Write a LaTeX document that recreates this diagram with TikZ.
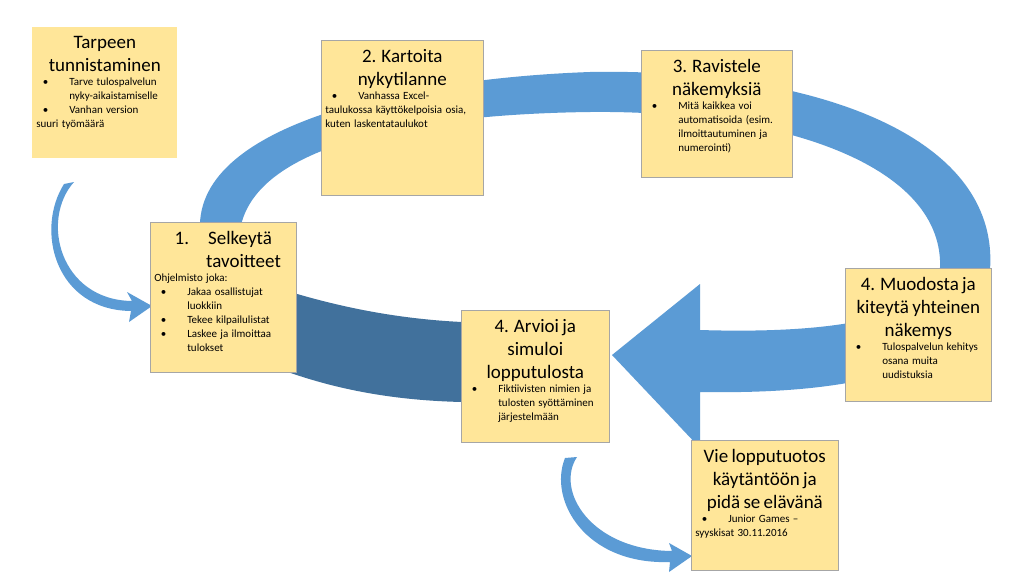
\documentclass[tikz,border=0pt]{standalone}
\usepackage{fontspec}
\setmainfont{Carlito}
\usetikzlibrary{arrows.meta}
\definecolor{bx}{HTML}{FFE699}
\definecolor{bl}{HTML}{5B9BD5}
\definecolor{bd}{HTML}{41719C}
\newcommand{\itm}[1]{\par\hangindent=3em\hangafter=1\noindent\hspace*{0.6em}\makebox[2.4em][l]{\textbullet}#1}
\newcommand{\ttl}[1]{\vspace*{5pt}{\centering\fontsize{19}{23}\selectfont #1\par}\fontsize{11}{14}\selectfont\raggedright\hyphenpenalty=10000\exhyphenpenalty=10000 }
\tikzset{card/.style={fill=bx,draw=gray!70,line width=0.6pt,anchor=north west,inner sep=4pt,align=left}}
\newcommand{\card}[6]{\node[card,minimum width=#3pt,minimum height=#4pt,text width=\dimexpr#3pt-8pt\relax] (#1) at (#2) {\parbox[t][\dimexpr#4pt-8pt\relax][t]{\dimexpr#3pt-8pt\relax}{#5#6}};}
\begin{document}
\begin{tikzpicture}[x=1pt,y=-1pt]
\useasboundingbox (0,0) rectangle (1024,576);
\fill[white] (0,0) rectangle (1024,576);
% dark tail behind box 1
\fill[bd] (205,262) .. controls (300,300) and (380,318) .. (462,322) -- (462,402) .. controls (380,400) and (300,385) .. (215,340) -- cycle;
% ring
\fill[bl] (200,230) .. controls (195,120) and (420,78) .. (590,72)
  .. controls (800,68) and (1000,130) .. (990,270)
  .. controls (985,360) and (880,395) .. (700,392)
  -- (700,448) -- (612,355) -- (700,284) -- (700,330)
  .. controls (860,335) and (945,310) .. (940,260)
  .. controls (935,160) and (770,110) .. (590,112)
  .. controls (430,114) and (255,140) .. (240,230) -- cycle;
% small arrows
\fill[bl] (74,182) .. controls (40,220) and (60,300) .. (132,301) -- (127,292) -- (152,306) -- (129,322) -- (131,311)
  .. controls (55,310) and (35,230) .. (64,184) -- cycle;
\fill[bl] (577,457) .. controls (555,490) and (590,550) .. (672,551) -- (669,543) -- (692,556) -- (669,572) -- (670,562)
  .. controls (585,565) and (548,500) .. (565,458) -- cycle;
% cards
\node[card,draw=none,minimum width=145pt,minimum height=131pt,text width=137pt] (t) at (32,27) {\parbox[t][123pt][t]{137pt}{\ttl{Tarpeen\\tunnistaminen}\itm{Tarve tulospalvelun nyky-aikaistamiselle}\itm{Vanhan version\\suuri työmäärä}}};
\card{k}{321,40}{162}{155}{\ttl{2. Kartoita\\nykytilanne}}{\itm{Vanhassa Excel-\\taulukossa käyttökelpoisia osia, kuten laskentataulukot}}
\card{r}{641,50}{151}{127}{\ttl{3. Ravistele\\näkemyksiä}}{\itm{Mitä kaikkea voi automatisoida (esim. ilmoittautuminen ja numerointi)}}
\card{s}{150,222}{146}{150}{\ttl{1.\quad Selkeytä\\\hfill tavoitteet\hspace*{0.6em}}}{Ohjelmisto joka:\itm{Jakaa osallistujat luokkiin}\itm{Tekee kilpailulistat}\itm{Laskee ja ilmoittaa tulokset}}
\card{m}{845,268}{146}{133}{\ttl{4. Muodosta ja\\kiteytä yhteinen\\näkemys}}{\itm{Tulospalvelun kehitys osana muita uudistuksia}}
\card{a}{461,310}{148}{132}{\ttl{4. Arvioi ja\\simuloi\\lopputulosta}}{\itm{Fiktiivisten nimien ja tulosten syöttäminen järjestelmään}}
\card{v}{691,440}{147}{130}{\ttl{Vie lopputuotos\\käytäntöön ja\\pidä se elävänä}}{\itm{Junior Games –\\syyskisat 30.11.2016}}
\end{tikzpicture}
\end{document}
